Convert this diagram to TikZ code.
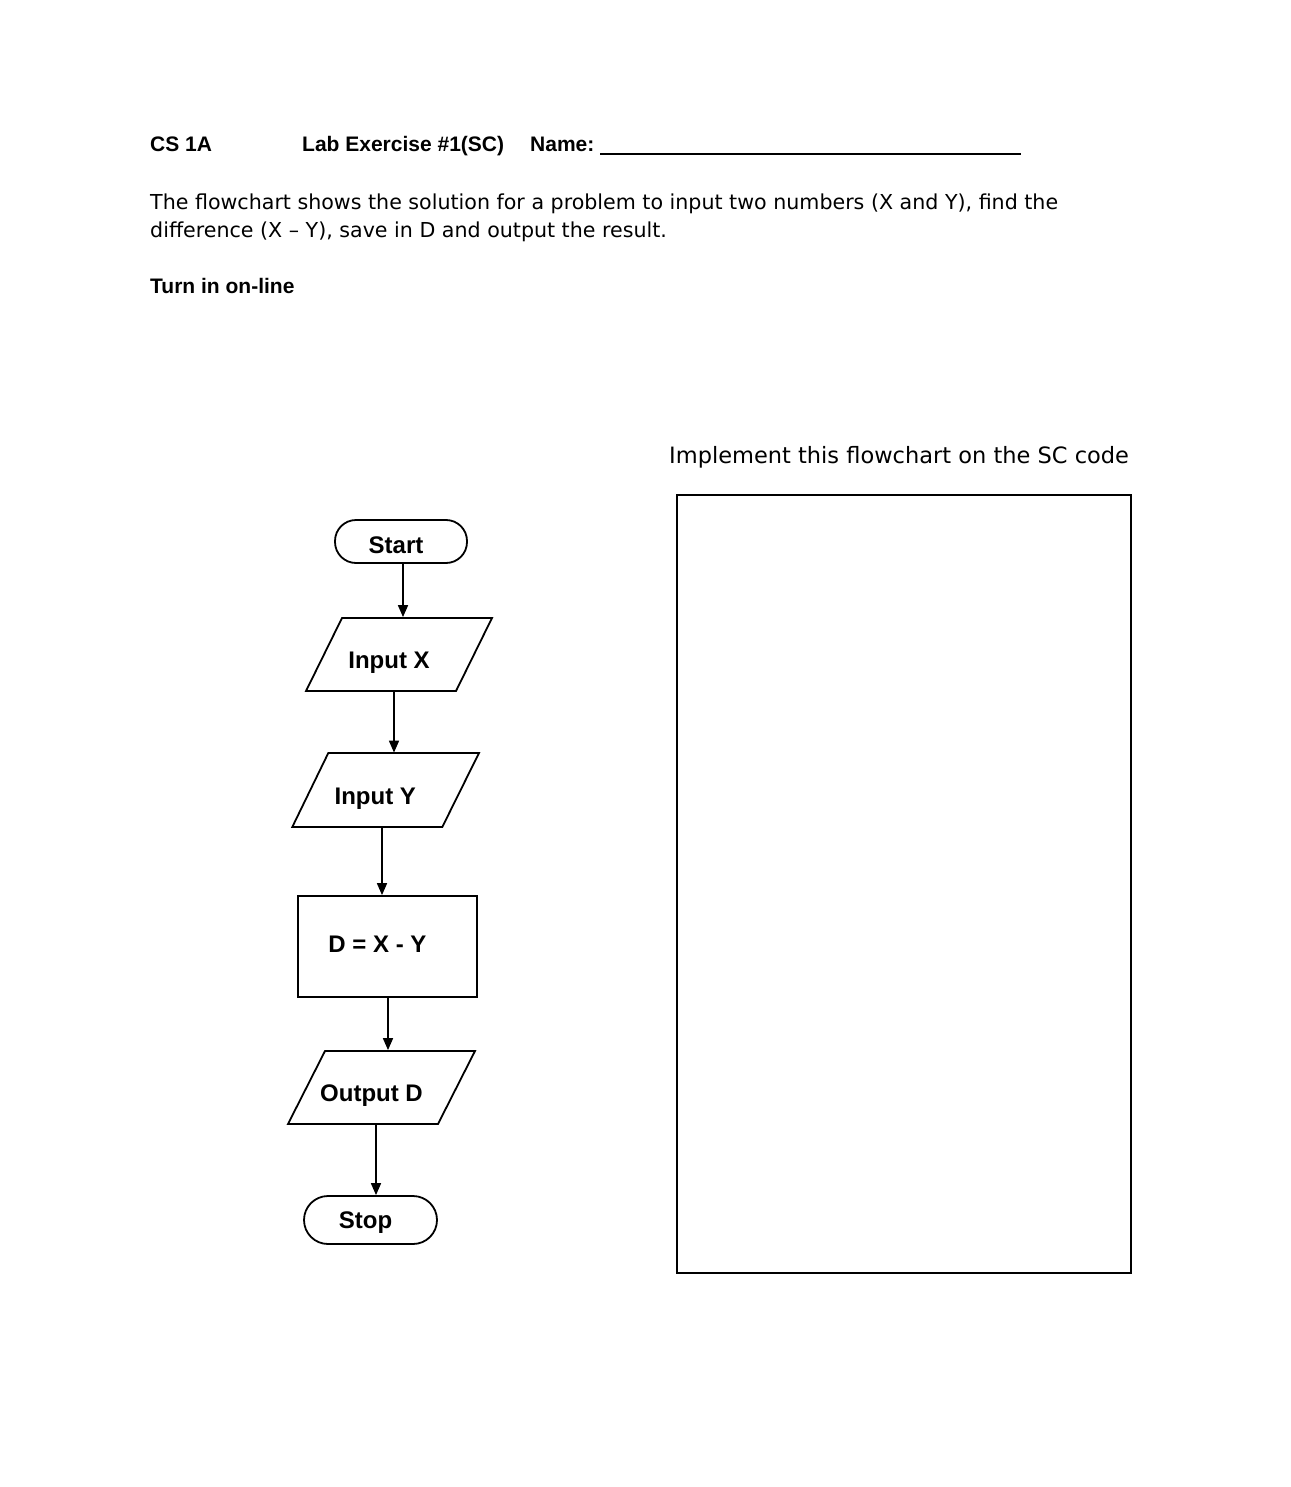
\documentclass[tikz,border=0pt]{standalone}
\usepackage{fontspec}
\setmainfont{Liberation Sans}
\newfontfamily\bodyfont{DejaVu Sans}
\usetikzlibrary{arrows.meta}
\begin{document}
\begin{tikzpicture}[x=1pt,y=-1pt,
  hdr/.style={anchor=base west,inner sep=0pt,font=\bfseries\fontsize{21}{25}\selectfont},
  body/.style={anchor=base west,inner sep=0pt,align=left,font=\bodyfont\fontsize{20.6}{28}\selectfont},
  shp/.style={line width=1.8pt,inner sep=2pt,font=\bfseries\fontsize{24}{28}\selectfont},
  term/.style={shp,draw,rectangle,rounded corners=21pt,execute at end node={\hspace{10pt}}},
  io/.style={shp,rectangle,minimum width=186pt,minimum height=73pt,
    text height=28pt,text depth=0pt,execute at end node={\hspace{20pt}}},
  iobox/.style={line width=1.8pt},
  proc/.style={shp,draw,rectangle,minimum width=179pt,minimum height=101pt,
    text height=12pt,text depth=0pt,execute at end node={\hspace{20pt}}},
  arr/.style={line width=1.7pt,-{Triangle[length=12pt,width=10pt]}}]
\useasboundingbox[fill=white] (0,0) rectangle (1290,1487);

% header
\node[hdr] (cs) at (150,152) {CS 1A};
\node[hdr] (lab) at (302,152) {Lab Exercise \#1(SC)};
\node[hdr] (name) at (530,152) {Name:};
\coordinate (ul1) at (600,154);
\coordinate (ul2) at (1021,154);
\draw[line width=2.5pt] (ul1) -- (ul2);

\node[body] (para) at (150,238) {The flowchart shows the solution for a problem to input two numbers (X and Y), find the\\difference (X – Y), save in D and output the result.};
\node[hdr] (turn) at (150,294) {Turn in on-line};

\node[body,font=\bodyfont\fontsize{22.5}{27}\selectfont] (impl) at (669,463) {Implement this flowchart on the SC code};
\node[draw,line width=1.5pt,rectangle,inner sep=0pt,minimum width=454pt,minimum height=778pt,anchor=north west] (code) at (676,494) {};

% flowchart
\node[term,minimum width=132pt,minimum height=43pt,text height=24pt,text depth=0pt] (start) at (401,541.5) {Start};
\node[io] (ix) at (399,654.5) {Input X};
\draw[iobox,shift={(ix.center)}] (-93,36.5) -- (-57,-36.5) -- (93,-36.5) -- (57,36.5) -- cycle;
\node[io] (iy) at (385.3,790) {Input Y};
\draw[iobox,shift={(iy.center)}] (-93,37) -- (-57,-37) -- (93.7,-37) -- (57,37) -- cycle;
\node[proc] (d) at (387.5,946.5) {D = X - Y};
\node[io] (od) at (381.5,1087.5) {Output D};
\draw[iobox,shift={(od.center)}] (-93.5,36.5) -- (-56.5,-36.5) -- (93.5,-36.5) -- (56.5,36.5) -- cycle;
\node[term,minimum width=133pt,minimum height=48pt,rounded corners=24pt,text height=17pt,text depth=0pt] (stop) at (370.5,1220) {Stop};

\draw[arr] ([xshift=2pt]start.south) -- ([xshift=2pt]start.south |- ix.north);
\draw[arr] ([xshift=-5pt]ix.south) -- ([xshift=-5pt]ix.south |- iy.north);
\draw[arr] ([xshift=-3.3pt]iy.south) -- ([xshift=-3.3pt]iy.south |- d.north);
\draw[arr] ([xshift=0.5pt]d.south) -- ([xshift=0.5pt]d.south |- od.north);
\draw[arr] ([xshift=-5.5pt]od.south) -- ([xshift=-5.5pt]od.south |- stop.north);
\end{tikzpicture}
\end{document}
